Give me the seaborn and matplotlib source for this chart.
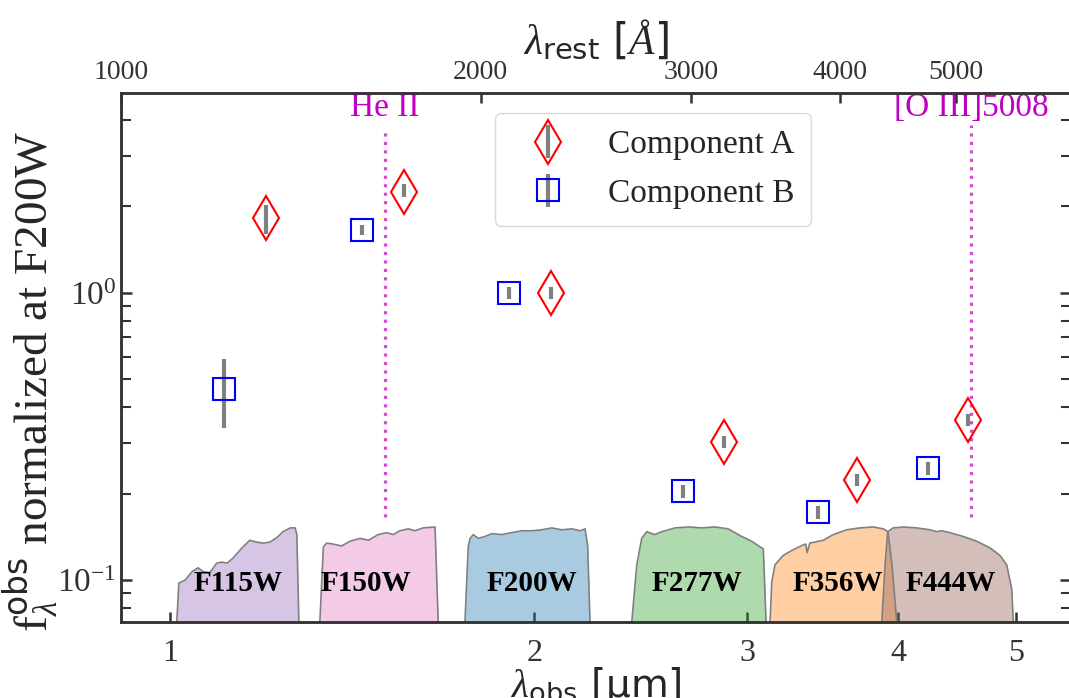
import numpy as np
import seaborn as sns
import matplotlib.pyplot as plt
from matplotlib.ticker import FixedLocator, NullLocator, NullFormatter

# ---- photometry (observed wavelength in micron, flux normalized at F200W) ----
comp_a_wave = [1.20, 1.561, 2.065, 2.87, 3.70, 4.57]
comp_a_flux = [1.82, 2.25, 1.00, 0.303, 0.223, 0.361]
comp_a_err_lo = [0.21, 0.09, 0.05, 0.015, 0.011, 0.018]
comp_a_err_hi = [0.21, 0.15, 0.05, 0.015, 0.011, 0.018]

comp_b_wave = [1.108, 1.441, 1.906, 2.655, 3.43, 4.23]
comp_b_flux = [0.463, 1.658, 1.00, 0.204, 0.1726, 0.2455]
comp_b_err_lo = [0.124, 0.07, 0.05, 0.011, 0.009, 0.013]
comp_b_err_hi = [0.126, 0.07, 0.05, 0.011, 0.009, 0.013]

# ---- NIRCam filter curves (wavelength in micron, relative throughput) ----
f115w_wave = [1.013, 1.017, 1.029, 1.043, 1.055, 1.065, 1.079, 1.093, 1.104, 1.115, 1.127,
              1.147, 1.164, 1.180, 1.194, 1.209, 1.226, 1.240, 1.257, 1.269, 1.273, 1.278]
f115w_trans = [0, 0.41, 0.44, 0.53, 0.57, 0.53, 0.52, 0.62, 0.63, 0.62, 0.67,
               0.78, 0.86, 0.84, 0.83, 0.84, 0.89, 0.95, 0.99, 0.99, 0.92, 0]
f150w_wave = [1.330, 1.339, 1.347, 1.364, 1.386, 1.409, 1.436, 1.459, 1.486, 1.511, 1.529,
              1.549, 1.574, 1.594, 1.619, 1.656, 1.666]
f150w_trans = [0, 0.79, 0.83, 0.82, 0.80, 0.85, 0.88, 0.86, 0.92, 0.94, 0.92,
               0.96, 0.98, 0.96, 0.99, 1.0, 0]
f200w_wave = [1.753, 1.764, 1.770, 1.781, 1.798, 1.821, 1.845, 1.880, 1.916, 1.953, 1.990,
              2.028, 2.068, 2.107, 2.148, 2.183, 2.203, 2.214, 2.224]
f200w_trans = [0, 0.79, 0.88, 0.92, 0.88, 0.90, 0.93, 0.92, 0.94, 0.96, 0.96,
               0.97, 0.99, 0.97, 0.98, 0.96, 0.98, 0.81, 0]
f277w_wave = [2.408, 2.431, 2.454, 2.477, 2.516, 2.549, 2.615, 2.682, 2.751, 2.821, 2.893,
              2.968, 3.025, 3.074, 3.093, 3.109]
f277w_trans = [0, 0.60, 0.88, 0.95, 0.92, 0.95, 0.99, 1.0, 0.99, 1.0, 0.98,
               0.90, 0.85, 0.79, 0.77, 0]
f356w_wave = [3.133, 3.143, 3.162, 3.212, 3.273, 3.336, 3.353, 3.362, 3.379, 3.467, 3.534,
              3.625, 3.718, 3.813, 3.886, 3.921, 3.951, 3.987]
f356w_trans = [0, 0.42, 0.60, 0.70, 0.76, 0.81, 0.82, 0.73, 0.83, 0.86, 0.92,
               0.97, 0.99, 1.0, 0.98, 0.95, 0.60, 0]
f444w_wave = [3.875, 3.899, 3.919, 3.961, 4.037, 4.141, 4.248, 4.302, 4.343, 4.412, 4.525,
              4.642, 4.761, 4.853, 4.915, 4.962, 4.977]
f444w_trans = [0, 0.60, 0.95, 0.99, 1.0, 0.99, 0.97, 0.95, 0.96, 0.94, 0.90,
               0.85, 0.78, 0.70, 0.60, 0.35, 0]

filter_names = ['F115W', 'F150W', 'F200W', 'F277W', 'F356W', 'F444W']
filter_label_x = [1.138, 1.452, 1.992, 2.727, 3.565, 4.42]

# emission lines (rest wavelength in Angstrom)
line_names = ['He II', '[O III]5008']
line_rest = [1640.4, 5008.2]
z_line = 8.17

top_ticks = [1000, 2000, 3000, 4000, 5000]
bottom_ticks = [1, 2, 3, 4, 5]

# ---- style ----
sns.set_theme(style='ticks', color_codes=False, rc={
    'axes.edgecolor': '.2', 'axes.linewidth': 1.8,
    'xtick.direction': 'in', 'ytick.direction': 'in',
    'xtick.color': '.2', 'ytick.color': '.2',
    'xtick.major.width': 1.8, 'ytick.major.width': 1.8,
    'ytick.minor.width': 1.5, 'xtick.major.size': 7,
    'ytick.major.size': 8, 'ytick.minor.size': 7,
})
plt.rcParams['font.family'] = ['Liberation Serif', 'DejaVu Serif']
plt.rcParams['mathtext.fontset'] = 'custom'
plt.rcParams['mathtext.rm'] = 'Liberation Serif'
plt.rcParams['mathtext.it'] = 'Liberation Serif:italic'
plt.rcParams['mathtext.sf'] = 'DejaVu Sans'

magenta = '#c000c0'

fig = plt.figure(figsize=(10.69, 6.98), dpi=100)
ax = fig.add_axes([0.1132, 0.1089, 0.8887, 0.7579])
ax.set_xscale('log')
ax.set_yscale('log')
xlim = (0.911, 5.555)
ylim = (0.0714, 4.97)
ax.set_xlim(*xlim)
ax.set_ylim(*ylim)

# ---- filter curves ----
filt_floor, filt_peak = ylim[0], 0.153
pal = sns.color_palette('tab10')
filt_colors = [pal[4], pal[6], pal[0], pal[2], pal[1], pal[5]]
filt_waves = [f115w_wave, f150w_wave, f200w_wave, f277w_wave, f356w_wave, f444w_wave]
filt_trans = [f115w_trans, f150w_trans, f200w_trans, f277w_trans, f356w_trans, f444w_trans]
for name, w, t, c, lx in zip(filter_names, filt_waves, filt_trans, filt_colors, filter_label_x):
    yy = filt_floor * (filt_peak / filt_floor) ** np.asarray(t)
    ax.fill_between(w, filt_floor, yy, color=c, alpha=0.38, lw=0, zorder=1)
    ax.plot(w, yy, color='gray', lw=1.2, zorder=1.5)
    ax.text(lx, 0.0976, name, ha='center', va='center', fontsize=21,
            fontweight='bold', color='black', zorder=3)

# ---- emission lines ----
line_tops = [3.70, 3.85]
for name, lr, top in zip(line_names, line_rest, line_tops):
    xo = lr * (1 + z_line) / 1e4
    ax.plot([xo, xo], [0.166, top], ls=':', color=magenta, alpha=0.7, lw=2.3, zorder=2)
    ax.text(xo, 4.4, name, color=magenta, ha='center', va='center', fontsize=24)

# ---- photometry ----
ax.errorbar(comp_a_wave, comp_a_flux, yerr=[comp_a_err_lo, comp_a_err_hi], fmt='d',
            ms=22, mfc='none', mec='red', mew=1.5, ecolor='gray', elinewidth=3,
            capsize=0, label='Component A', zorder=4)
ax.errorbar(comp_b_wave, comp_b_flux, yerr=[comp_b_err_lo, comp_b_err_hi], fmt='s',
            ms=16, mfc='none', mec='blue', mew=1.5, ecolor='gray', elinewidth=3,
            capsize=0, label='Component B', zorder=4)

leg = ax.legend(loc='upper center', bbox_to_anchor=(0.56, 0.962), fontsize=24,
                handletextpad=0.7, borderpad=0.5, labelspacing=0.55, framealpha=1,
                edgecolor='0.85', handlelength=2.2, borderaxespad=0)

# ---- axes ticks / labels ----
ax.xaxis.set_major_locator(FixedLocator(bottom_ticks))
ax.xaxis.set_minor_locator(NullLocator())
ax.set_xticklabels([str(v) for v in bottom_ticks])
ax.tick_params(axis='x', labelsize=23, pad=12, top=False)
ax.tick_params(axis='y', which='both', right=True, labelsize=24)
ax.set_xlabel(r'$\lambda_{\mathsf{obs}}$ [μm]', fontsize=28, fontfamily='DejaVu Sans',
              labelpad=-2)
ax.set_ylabel(r'$\mathrm{f}_{\lambda}^{\mathsf{obs}}$ normalized at F200W', fontsize=34)
ax.yaxis.set_label_coords(-0.062, 0.455)

ax2 = ax.twiny()
ax2.set_xscale('log')
ax2.set_xlim(1000, 6237)
ax2.xaxis.set_major_locator(FixedLocator(top_ticks))
ax2.xaxis.set_minor_locator(NullLocator())
ax2.xaxis.set_minor_formatter(NullFormatter())
ax2.set_xticklabels([str(v) for v in top_ticks])
ax2.tick_params(axis='x', labelsize=20, pad=6)
ax2.set_xlabel(r'$\lambda_{\mathsf{rest}}$ [$\AA$]', fontsize=30, fontfamily='DejaVu Sans',
               labelpad=4)

fig.savefig('out.png', dpi=100)
